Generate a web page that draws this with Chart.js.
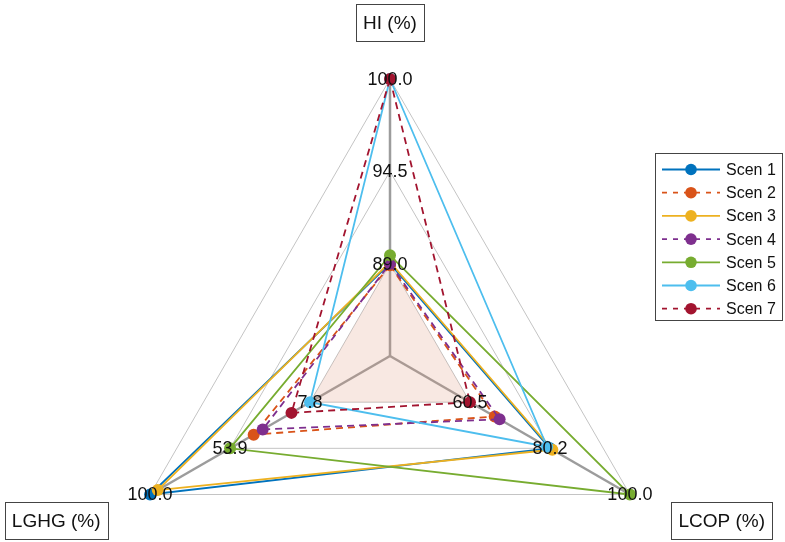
<!DOCTYPE html>
<html><head><meta charset="utf-8">
<script src="https://cdn.jsdelivr.net/npm/chart.js@4.4.0/dist/chart.umd.min.js"></script>
<style>html,body{margin:0;padding:0;background:#fff;} #wrap{width:785px;height:542px;position:relative;}</style>
</head><body><div id="wrap"><canvas id="c" width="785" height="542"></canvas></div>
<script>
// ---- data ----
const axisNames = ['HI (%)', 'LCOP (%)', 'LGHG (%)'];
const hiTicks = [89.0, 94.5, 100.0];
const lcopTicks = [60.5, 80.2, 100.0];
const lghgTicks = [7.8, 53.9, 100.0];
const tickLabels = [['89.0','94.5','100.0'], ['60.5','80.2','100.0'], ['7.8','53.9','100.0']];
const scenNames = ['Scen 1','Scen 2','Scen 3','Scen 4','Scen 5','Scen 6','Scen 7'];
// values per scenario: [HI, LCOP, LGHG]
const scen1 = [89.0, 80.2, 100.0];
const scen2 = [88.9, 66.6, 40.3];
const scen3 = [89.1, 80.8, 95.6];
const scen4 = [89.0, 67.8, 35.1];
const scen5 = [89.5, 100.0, 53.9];
const scen6 = [100.0, 79.5, 7.8];
const scen7 = [100.0, 60.5, 18.5];
const shadedLimits = [89.0, 60.5, 7.8];

// ---- styles ----
const colors = ['#0072BD','#D95319','#EDB120','#7E2F8E','#77AC30','#4DBEEE','#A2142F'];
const dashed = [false,true,false,true,false,false,true];
const FONT = 'Arial, "Liberation Sans", Helvetica, sans-serif';

const axisTicks = [hiTicks, lcopTicks, lghgTicks];
function toRing(v, t) {
  if (v <= t[0]) return 1 - (t[0] - v) / (t[1] - t[0]);
  if (v <= t[1]) return 1 + (v - t[0]) / (t[1] - t[0]);
  return 2 + (v - t[1]) / (t[2] - t[1]);
}
const scenData = [scen1, scen2, scen3, scen4, scen5, scen6, scen7];

const datasets = scenData.map((d, i) => ({
  label: scenNames[i],
  data: d.map((v, j) => toRing(v, axisTicks[j])),
  borderColor: colors[i],
  backgroundColor: colors[i],
  pointBackgroundColor: colors[i],
  pointBorderColor: colors[i],
  pointRadius: 6,
  pointBorderWidth: 0,
  borderWidth: 1.8,
  borderDash: dashed[i] ? [7, 5] : [],
  fill: false,
  order: 10 - i
}));
datasets.push({
  label: 'shade',
  data: shadedLimits.map((v, j) => toRing(v, axisTicks[j])),
  backgroundColor: 'rgba(225,150,125,0.22)',
  borderWidth: 0,
  pointRadius: 0,
  fill: true,
  order: 50
});

const tickLabelPlugin = {
  id: 'tickLabelPlugin',
  afterDatasetsDraw(chart) {
    const s = chart.scales.r, ctx = chart.ctx;
    ctx.save();
    ctx.font = '18px ' + FONT;
    ctx.fillStyle = '#111';
    ctx.textAlign = 'center';
    ctx.textBaseline = 'middle';
    for (let i = 0; i < axisNames.length; i++) {
      for (let k = 0; k < 3; k++) {
        const p = s.getPointPositionForValue(i, toRing(axisTicks[i][k], axisTicks[i]));
        ctx.fillText(tickLabels[i][k], p.x, p.y + 1);
      }
    }
    ctx.restore();
  }
};

const titlesLegendPlugin = {
  id: 'titlesLegendPlugin',
  afterDraw(chart) {
    const s = chart.scales.r, ctx = chart.ctx;
    ctx.save();
    // axis titles in boxes
    ctx.font = '19px ' + FONT;
    ctx.textBaseline = 'middle';
    for (let i = 0; i < axisNames.length; i++) {
      const p = s.getPointPosition(i, s.drawingArea * 1.19);
      const w = ctx.measureText(axisNames[i]).width;
      const bw = w + 14, bh = 37;
      let left, cy;
      const dx = p.x - s.xCenter;
      if (Math.abs(dx) < 1) { left = p.x - bw / 2; cy = p.y - 4; }
      else if (dx > 0) { left = p.x - 4; cy = p.y; }
      else { left = p.x + 3 - bw; cy = p.y; }
      ctx.fillStyle = '#fff';
      ctx.fillRect(left, cy - bh / 2, bw, bh);
      ctx.strokeStyle = '#444';
      ctx.lineWidth = 1;
      ctx.strokeRect(Math.round(left) + 0.5, Math.round(cy - bh / 2) + 0.5, Math.round(bw), Math.round(bh));
      ctx.fillStyle = '#111';
      ctx.textAlign = 'left';
      ctx.fillText(axisNames[i], left + 7, cy + 1);
    }
    // legend
    const lx = 655, ly = 153, lw = 127, lh = 167;
    ctx.fillStyle = '#fff';
    ctx.fillRect(lx, ly, lw, lh);
    ctx.strokeStyle = '#444';
    ctx.lineWidth = 1;
    ctx.strokeRect(lx + 0.5, ly + 0.5, lw, lh);
    ctx.font = '16px ' + FONT;
    ctx.textAlign = 'left';
    ctx.textBaseline = 'middle';
    for (let i = 0; i < scenNames.length; i++) {
      const y = 169.5 + i * 23.2;
      ctx.strokeStyle = colors[i];
      ctx.lineWidth = 1.8;
      ctx.setLineDash(dashed[i] ? [5, 6] : []);
      ctx.beginPath();
      ctx.moveTo(662, y);
      ctx.lineTo(720, y);
      ctx.stroke();
      ctx.setLineDash([]);
      ctx.fillStyle = colors[i];
      ctx.beginPath();
      ctx.arc(691, y, 5.8, 0, Math.PI * 2);
      ctx.fill();
      ctx.fillStyle = '#111';
      ctx.fillText(scenNames[i], 726, y + 1);
    }
    ctx.restore();
  }
};

new Chart(document.getElementById('c'), {
  type: 'radar',
  data: { labels: axisNames, datasets: datasets },
  options: {
    responsive: false,
    animation: false,
    elements: { line: { tension: 0 } },
    plugins: { legend: { display: false }, tooltip: { enabled: false } },
    scales: {
      r: {
        min: 0, max: 3,
        ticks: { display: false, stepSize: 1 },
        grid: { color: '#c4c4c4', lineWidth: 1 },
        angleLines: { color: '#9c9c9c', lineWidth: 2.5 },
        pointLabels: { display: false },
        afterFit(scale) {
          scale.xCenter = 390;
          scale.yCenter = 356;
          scale.drawingArea = 277;
        }
      }
    }
  },
  plugins: [tickLabelPlugin, titlesLegendPlugin]
});
</script>
</body></html>
